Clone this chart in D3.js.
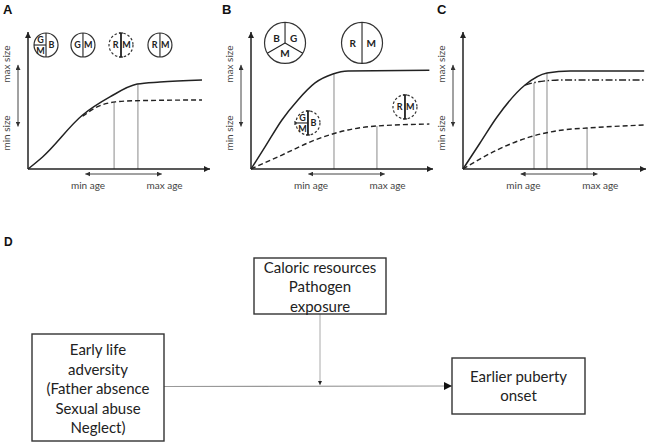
<!DOCTYPE html>
<html>
<head>
<meta charset="utf-8">
<script src="https://cdn.jsdelivr.net/npm/d3@7"></script>
<style>
    body { margin: 0; background: #fff; }
    svg { display: block; font-family: Lato, "Open Sans", sans-serif; }
</style>
</head>
<body>
<script>
// all curve values are in abstract units: age 0-100, size 0-100
const solidA = [[0, 0], [8, 8.8], [30, 39.4], [45, 52.6], [60, 62], [72.5, 63.5], [95.6, 65]];
const dashedA = [[30, 38.5], [38, 45.3], [48, 49], [58, 49.8], [95.6, 50.4]];
const dropsA = [{ age: 47.3, size: 49 }, { age: 60.4, size: 62 }];

const solidB = [[0, 0], [7.7, 16.1], [17, 35.8], [25.8, 50.4], [35.2, 62.8], [45, 69.3], [53.3, 71.5], [98, 72]];
const dashedB = [[0, 0], [17, 10.2], [35.2, 21.2], [53.3, 28.5], [69.2, 31.4], [98, 32.8]];
const dropsB = [{ age: 45.6, size: 69.3 }, { age: 69.2, size: 31.4 }];

const solidC = [[0, 0], [9.3, 19], [18.6, 38], [33.9, 61.3], [45.9, 70], [58.5, 71.5], [99, 71.5]];
const dashDotC = [[33.9, 61.3], [40.4, 63.5], [54.6, 65], [99, 65]];
const dashedC = [[0, 0], [18.6, 13.9], [36.6, 23.4], [54.6, 28.5], [67.8, 29.9], [99, 32.1]];
const dropsC = [{ age: 38.8, size: 62.8 }, { age: 45.9, size: 70 }, { age: 67.8, size: 29.9 }];

// genotype icons (age/size position in units)
const iconsA = [
    { age: 9.9, size: 90.5, kind: "quad", labels: ["G", "M", "B"], dashed: false, big: false },
    { age: 30.2, size: 90.5, kind: "split", labels: ["G", "M"], dashed: false, big: false },
    { age: 51.1, size: 90.5, kind: "split", labels: ["R", "M"], dashed: true, big: false },
    { age: 72.5, size: 90.5, kind: "split", labels: ["R", "M"], dashed: false, big: false },
];
const iconsB = [
    { age: 18.7, size: 92, kind: "tri", labels: ["B", "G", "M"], dashed: false, big: true },
    { age: 61, size: 92, kind: "split", labels: ["R", "M"], dashed: false, big: true },
    { age: 31.3, size: 33.6, kind: "quad", labels: ["G", "M", "B"], dashed: true, big: false },
    { age: 84.6, size: 45.3, kind: "split", labels: ["R", "M"], dashed: true, big: false },
];

const ageLabels = [{ text: "min age", age: 33 }, { text: "max age", age: 75 }];
const sizeLabels = [{ text: "max size", size: 76.6 }, { text: "min size", size: 26.3 }];
const sizeRange = [31, 76];
const ageRange = [31.5, 73.5];

// panel D text
const exposureLines = ["Caloric resources", "Pathogen", "exposure"];
const adversityLines = ["Early life", "adversity", "(Father absence", "Sexual abuse", "Neglect)"];
const outcomeLines = ["Earlier puberty", "onset"];

const width = 649;
const height = 447;

const svg = d3
    .select("body")
    .append("svg")
    .attr("width", width)
    .attr("height", height);

const defs = svg.append("defs");
function marker(id, w, h, color) {
    defs.append("marker")
        .attr("id", id)
        .attr("viewBox", "0 -5 10 10")
        .attr("refX", 10)
        .attr("refY", 0)
        .attr("markerUnits", "userSpaceOnUse")
        .attr("markerWidth", w)
        .attr("markerHeight", h)
        .attr("orient", "auto-start-reverse")
        .attr("preserveAspectRatio", "none")
        .append("path")
        .attr("d", "M0,-5L10,0L0,5Z")
        .attr("fill", color);
}
marker("axisHead", 6, 6, "#222");
marker("smallHead", 5, 5, "#333");
marker("bigHead", 8, 8, "#111");
marker("tinyHead", 4, 4, "#222");

const panels = [
    { id: "A", left: 28, right: 210, labelX: 3, solid: solidA, dashed: dashedA, dashDot: null, drops: dropsA, icons: iconsA },
    { id: "B", left: 251, right: 433, labelX: 222, solid: solidB, dashed: dashedB, dashDot: null, drops: dropsB, icons: iconsB },
    { id: "C", left: 463, right: 646, labelX: 437, solid: solidC, dashed: dashedC, dashDot: dashDotC, drops: dropsC, icons: [] },
];

const line = d3.line().curve(d3.curveMonotoneX);

panels.forEach((p) => {
    const x = d3.scaleLinear().domain([0, 100]).range([p.left, p.right]);
    const y = d3.scaleLinear().domain([0, 100]).range([169, 32]);
    const g = svg.append("g");
    line.x((d) => x(d[0])).y((d) => y(d[1]));

    svg.append("text")
        .text(p.id)
        .attr("x", p.labelX)
        .attr("y", 14)
        .style("font-family", "'Liberation Sans', Arial, sans-serif")
        .style("font-weight", "bold")
        .style("font-size", "13px")
        .attr("fill", "#111");

    // drop lines
    g.selectAll(".drop")
        .data(p.drops)
        .enter()
        .append("line")
        .attr("x1", (d) => x(d.age))
        .attr("x2", (d) => x(d.age))
        .attr("y1", (d) => y(d.size))
        .attr("y2", y(0))
        .attr("stroke", "#8a8a8a")
        .attr("stroke-width", 1);

    // axes
    g.append("line")
        .attr("x1", x(0)).attr("y1", y(0))
        .attr("x2", x(0)).attr("y2", y(100))
        .attr("stroke", "#222").attr("stroke-width", 1.5)
        .attr("marker-end", "url(#axisHead)");
    g.append("line")
        .attr("x1", x(0)).attr("y1", y(0))
        .attr("x2", x(100)).attr("y2", y(0))
        .attr("stroke", "#222").attr("stroke-width", 1.5)
        .attr("marker-end", "url(#axisHead)");

    // curves
    g.append("path").datum(p.solid).attr("d", line)
        .attr("fill", "none").attr("stroke", "#222").attr("stroke-width", 1.5);
    g.append("path").datum(p.dashed).attr("d", line)
        .attr("fill", "none").attr("stroke", "#222").attr("stroke-width", 1.4)
        .attr("stroke-dasharray", "5,3");
    if (p.dashDot) {
        g.append("path").datum(p.dashDot).attr("d", line)
            .attr("fill", "none").attr("stroke", "#222").attr("stroke-width", 1.4)
            .attr("stroke-dasharray", "7,2.5,1.5,2.5");
    }

    // range arrows
    const arrowX = p.left - 10;
    g.append("line")
        .attr("x1", arrowX).attr("x2", arrowX)
        .attr("y1", y(sizeRange[0])).attr("y2", y(sizeRange[1]))
        .attr("stroke", "#444").attr("stroke-width", 1)
        .attr("marker-start", "url(#smallHead)")
        .attr("marker-end", "url(#smallHead)");
    g.append("line")
        .attr("x1", x(ageRange[0])).attr("x2", x(ageRange[1]))
        .attr("y1", y(0) + 5).attr("y2", y(0) + 5)
        .attr("stroke", "#444").attr("stroke-width", 1)
        .attr("marker-start", "url(#smallHead)")
        .attr("marker-end", "url(#smallHead)");

    // labels
    g.selectAll(".age")
        .data(ageLabels)
        .enter()
        .append("text")
        .text((d) => d.text)
        .attr("x", (d) => x(d.age))
        .attr("y", 189)
        .attr("text-anchor", "middle")
        .style("font-size", "10px")
        .attr("fill", "#444");
    g.selectAll(".size")
        .data(sizeLabels)
        .enter()
        .append("text")
        .text((d) => d.text)
        .attr("transform", (d) => `translate(${p.left - 18},${y(d.size)}) rotate(-90)`)
        .attr("text-anchor", "middle")
        .style("font-size", "10px")
        .attr("fill", "#444");

    // icons
    const icons = g.selectAll(".icon")
        .data(p.icons)
        .enter()
        .append("g")
        .attr("transform", (d) => `translate(${x(d.age)},${y(d.size)})`);
    icons.each(function (d) {
        const ig = d3.select(this);
        const r = d.big ? 20.5 : 12;
        const fs = d.big ? 10 : 9;
        ig.append("circle")
            .attr("r", r)
            .attr("fill", "#fff")
            .attr("stroke", "#333")
            .attr("stroke-width", 1.2)
            .attr("stroke-dasharray", d.dashed ? "2.5,2" : null);
        const sw = d.dashed ? 1.8 : 1.1;
        const cap = d.dashed ? 2 : 0;
        const seg = (x1, y1, x2, y2, w) =>
            ig.append("line")
                .attr("x1", x1).attr("y1", y1).attr("x2", x2).attr("y2", y2)
                .attr("stroke", "#222").attr("stroke-width", w);
        let pos;
        if (d.kind === "tri") {
            seg(0, -r, 0, 0, sw);
            seg(0, 0, -r * 0.866, r * 0.5, sw);
            seg(0, 0, r * 0.866, r * 0.5, sw);
            pos = [[-r * 0.42, -r * 0.2], [r * 0.42, -r * 0.2], [0, r * 0.52]];
        } else {
            seg(0, -r, 0, r, sw);
            if (cap) {
                seg(-cap, -r, cap, -r, 1.2);
                seg(-cap, r, cap, r, 1.2);
            }
            if (d.kind === "quad") {
                seg(-r - (cap ? 1 : 0), 0, 0, 0, 1.1);
                if (cap) seg(-r - 1, -cap, -r - 1, cap, 1.1);
                pos = [[-r * 0.45, -r * 0.4], [-r * 0.45, r * 0.45], [r * 0.45, 0]];
            } else {
                pos = [[-r * 0.45, 0], [r * 0.45, 0]];
            }
        }
        ig.selectAll("text")
            .data(d.labels)
            .enter()
            .append("text")
            .text((t) => t)
            .attr("x", (t, i) => pos[i][0])
            .attr("y", (t, i) => pos[i][1] + fs * 0.36)
            .attr("text-anchor", "middle")
            .style("font-size", fs + "px")
            .style("font-weight", "bold")
            .attr("fill", "#222");
    });
});

////////////////////////////
//// Panel D ///////////////
////////////////////////////

svg.append("text")
    .text("D")
    .attr("x", 4)
    .attr("y", 246)
    .style("font-family", "'Liberation Sans', Arial, sans-serif")
    .style("font-weight", "bold")
    .style("font-size", "12px")
    .attr("fill", "#111");

// arrows first so boxes sit on top
svg.append("line")
    .attr("x1", 164).attr("y1", 386.5)
    .attr("x2", 452).attr("y2", 386)
    .attr("stroke", "#999").attr("stroke-width", 1.2)
    .attr("marker-end", "url(#bigHead)");
svg.append("line")
    .attr("x1", 320).attr("y1", 314)
    .attr("x2", 320).attr("y2", 385)
    .attr("stroke", "#aaa").attr("stroke-width", 1)
    .attr("marker-end", "url(#tinyHead)");

function box(bx, by, bw, bh, lines, firstY) {
    svg.append("rect")
        .attr("x", bx).attr("y", by)
        .attr("width", bw).attr("height", bh)
        .attr("fill", "#fff")
        .attr("stroke", "#333")
        .attr("stroke-width", 1.4);
    svg.append("g")
        .selectAll("text")
        .data(lines)
        .enter()
        .append("text")
        .text((d) => d)
        .attr("x", bx + bw / 2)
        .attr("y", (d, i) => firstY + i * 19.6)
        .attr("text-anchor", "middle")
        .style("font-size", "15px")
        .attr("fill", "#222");
}

box(254, 258, 132, 56, exposureLines, 272.5);
box(32, 334, 132, 107, adversityLines, 355);
box(452, 358, 133, 56, outcomeLines, 381.5);
</script>
</body>
</html>
